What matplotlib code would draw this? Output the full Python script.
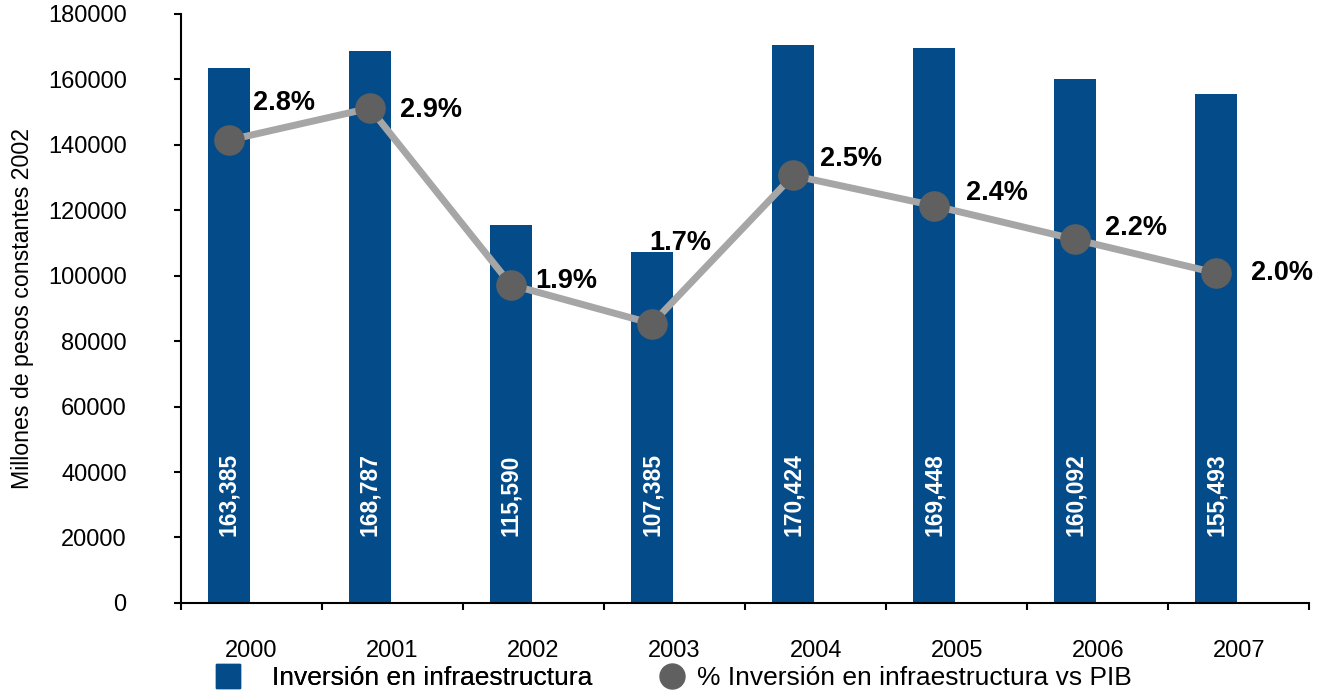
import numpy as np
import matplotlib
matplotlib.use("Agg")
import matplotlib.pyplot as plt
from matplotlib.lines import Line2D

plt.rcParams['font.family'] = ['Liberation Sans', 'DejaVu Sans']

years = ['2000', '2001', '2002', '2003', '2004', '2005', '2006', '2007']
inversion = [163385, 168787, 115590, 107385, 170424, 169448, 160092, 155493]
pct_pib = [2.75, 2.94, 1.89, 1.66, 2.54, 2.36, 2.16, 1.96]

# where each % label sits relative to its marker (points)
pct_offsets = [(40, 27), (44, -1), (40, 3), (20, 58), (42, 12), (45, 9), (44, 8), (47, 0)]

bar_color = '#034b89'
line_color = '#a6a6a6'
dot_color = '#606060'

fig = plt.figure(figsize=(13.2, 6.97), dpi=100)
ax = fig.add_axes([0.137, 0.135, 0.855, 0.845])

x = np.arange(len(years))
xb = x - 0.16
ax.bar(xb, inversion, width=0.30, color=bar_color, zorder=2)

for xi, v in zip(xb, inversion):
    ax.text(xi, 33000, '{:,}'.format(v), rotation=90, ha='center', va='center',
            color='white', fontsize=16.5, fontweight='bold', zorder=3)

ax.set_xlim(-0.5, len(years) - 0.5)
ax.set_ylim(0, 180000)
ax.set_yticks(np.arange(0, 180001, 20000))
ax.tick_params(axis='y', labelsize=17, length=5, width=1.5, pad=34)
ax.set_xticks(np.arange(-0.5, len(years), 1.0))
ax.set_xticklabels([])
ax.tick_params(axis='x', which='major', length=5, width=1.5, direction='out')
ax.set_xticks(x, minor=True)
ax.set_xticklabels(years, minor=True)
ax.tick_params(axis='x', which='minor', length=0, labelsize=17, pad=27)

for s in ['top', 'right']:
    ax.spines[s].set_visible(False)
for s in ['left', 'bottom']:
    ax.spines[s].set_linewidth(1.5)

ax.set_ylabel('Millones de pesos constantes 2002', fontsize=16.7, labelpad=10)

# secondary scale for the % of PIB line
ax2 = ax.twinx()
ax2.set_ylim(0, 3.5)
ax2.axis('off')
ax2.plot(xb, pct_pib, color=line_color, lw=5, zorder=3)
ax2.plot(xb, pct_pib, 'o', color=dot_color, ms=21, zorder=4)
for xi, p, off in zip(xb, pct_pib, pct_offsets):
    ax2.annotate('{:.1f}%'.format(p), (xi, p), xytext=off, textcoords='offset points',
                 ha='center', va='center', fontsize=19.5, fontweight='bold')

# two separate legend entries below the axis
leg1 = fig.legend([Line2D([], [], marker='s', ls='none', color=bar_color, ms=17.5)],
                  ['Inversión en infraestructura'],
                  loc='center left', bbox_to_anchor=(0.1627, 0.027), frameon=False,
                  fontsize=19, handlelength=1.0, handletextpad=1.17,
                  borderpad=0, borderaxespad=0)
fig.add_artist(leg1)
fig.legend([Line2D([], [], marker='o', ls='none', color=dot_color, ms=18)],
           ['% Inversión en infraestructura vs PIB'],
           loc='center left', bbox_to_anchor=(0.499, 0.027), frameon=False,
           fontsize=19, handlelength=1.0, handletextpad=0.45,
           borderpad=0, borderaxespad=0)

fig.savefig('out.png', dpi=100)
